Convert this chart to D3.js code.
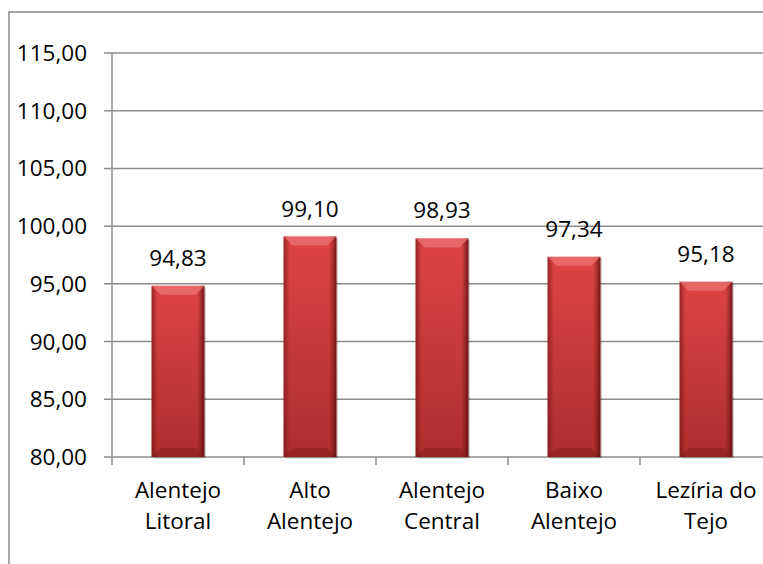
<!DOCTYPE html>
<html>
<head>
<meta charset="UTF-8">
<style>
  body { margin: 0; background: #fff; }
  svg text { font-family: "Open Sans", sans-serif; fill: #000; }
</style>
</head>
<body>
<svg id="chart" width="763" height="564"></svg>
<script src="https://d3js.org/d3.v7.min.js"></script>
<script>
// data
const categories = [["Alentejo", "Litoral"], ["Alto", "Alentejo"], ["Alentejo", "Central"], ["Baixo", "Alentejo"], ["Lezíria do", "Tejo"]];
const values = [94.83, 99.10, 98.93, 97.34, 95.18];
const yTicks = [80, 85, 90, 95, 100, 105, 110, 115];

const svg = d3.select("#chart");
const fmt = d => d.toFixed(2).replace(".", ",");
const fs = 22.5;

// plot area runs off the right edge like the original
const pLeft = 112, pRight = 772, pTop = 53, pBottom = 457;

const x = d3.scaleBand().domain(d3.range(categories.length)).range([pLeft, pRight]).paddingInner(0.6).paddingOuter(0.3);
const xb = d3.scaleBand().domain(d3.range(categories.length)).range([pLeft, pRight]);
const y = d3.scaleLinear().domain([80, 115]).range([pBottom, pTop]);

// outer chart frame
svg.append("rect").attr("x", 9).attr("y", 12).attr("width", 800).attr("height", 600)
  .attr("fill", "none").attr("stroke", "#898989").attr("stroke-width", 1.5);

const defs = svg.append("defs");
const g1 = defs.append("linearGradient").attr("id", "barFill").attr("x1", 0).attr("y1", 0).attr("x2", 0).attr("y2", 1);
g1.append("stop").attr("offset", "0%").attr("stop-color", "#de4444");
g1.append("stop").attr("offset", "100%").attr("stop-color", "#ad2e2e");
const g2 = defs.append("linearGradient").attr("id", "sideShade").attr("x1", 0).attr("y1", 0).attr("x2", 1).attr("y2", 0);
g2.append("stop").attr("offset", "0%").attr("stop-color", "#6a1010").attr("stop-opacity", 0.6);
g2.append("stop").attr("offset", "12%").attr("stop-color", "#7a1414").attr("stop-opacity", 0);
g2.append("stop").attr("offset", "86%").attr("stop-color", "#7a1414").attr("stop-opacity", 0);
g2.append("stop").attr("offset", "100%").attr("stop-color", "#4a0808").attr("stop-opacity", 0.75);

// gridlines
svg.append("g").selectAll("line").data(yTicks).join("line")
  .attr("x1", pLeft - 8).attr("x2", pRight)
  .attr("y1", d => y(d)).attr("y2", d => y(d))
  .attr("stroke", "#8c8c8c").attr("stroke-width", 1.5);

// y axis line
svg.append("line").attr("x1", pLeft).attr("x2", pLeft).attr("y1", pTop).attr("y2", pBottom)
  .attr("stroke", "#8c8c8c").attr("stroke-width", 1.5);

// y labels
svg.append("g").selectAll("text").data(yTicks).join("text")
  .attr("x", 87).attr("y", d => y(d) + 8)
  .attr("text-anchor", "end").attr("font-size", fs)
  .text(fmt);

// x ticks
svg.append("g").selectAll("line").data(d3.range(categories.length + 1)).join("line")
  .attr("x1", i => pLeft + i * xb.step()).attr("x2", i => pLeft + i * xb.step())
  .attr("y1", pBottom).attr("y2", pBottom + 8)
  .attr("stroke", "#8c8c8c").attr("stroke-width", 1.5);

// bars
const bars = svg.append("g").selectAll("g").data(values).join("g");
bars.each(function(v, i) {
  const g = d3.select(this);
  const bx = x(i), bw = x.bandwidth(), by = y(v), bh = pBottom - y(v);
  const b = 9;
  g.append("rect").attr("x", bx + 1.5).attr("y", by + 1.5).attr("width", bw).attr("height", bh)
    .attr("fill", "#000").attr("opacity", 0.18);
  g.append("rect").attr("x", bx).attr("y", by).attr("width", bw).attr("height", bh).attr("fill", "url(#barFill)");
  g.append("rect").attr("x", bx).attr("y", by).attr("width", bw).attr("height", bh).attr("fill", "url(#sideShade)");
  g.append("polygon")
    .attr("points", [[bx, by], [bx + bw, by], [bx + bw - b, by + b], [bx + b, by + b]].join(" "))
    .attr("fill", "#f07676").attr("opacity", 0.7);
  g.append("polygon")
    .attr("points", [[bx, pBottom], [bx + bw, pBottom], [bx + bw - b, pBottom - b], [bx + b, pBottom - b]].join(" "))
    .attr("fill", "#7a1a1a").attr("opacity", 0.4);
  g.append("text").attr("x", bx + bw / 2).attr("y", by - 20)
    .attr("text-anchor", "middle").attr("font-size", fs).text(fmt(v));
});

// category labels
const cl = svg.append("g").selectAll("text").data(categories).join("text")
  .attr("text-anchor", "middle").attr("font-size", fs);
cl.each(function(lines, i) {
  const t = d3.select(this);
  lines.forEach((s, k) => {
    t.append("tspan").attr("x", xb(i) + xb.bandwidth() / 2).attr("y", 498 + k * 31).text(s);
  });
});
</script>
</body>
</html>
